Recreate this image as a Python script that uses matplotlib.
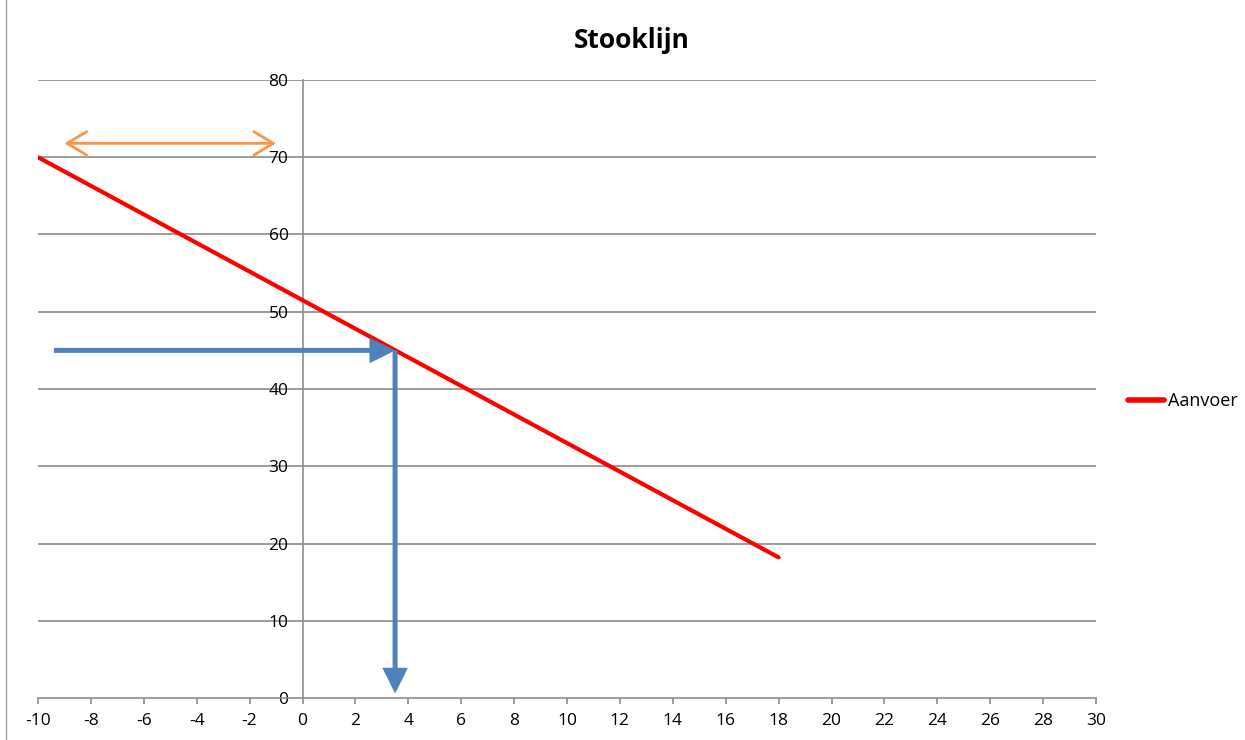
import matplotlib
matplotlib.use("Agg")
import matplotlib.pyplot as plt
import matplotlib.patheffects as pe
from matplotlib.lines import Line2D

# Data
temp_out = [-10, 18]
aanvoer = [70, 18.2]
x_ticks = list(range(-10, 31, 2))
y_ticks = list(range(0, 81, 10))
read_start_x = -9.4
read_x = 3.5
read_y = 45
read_bottom_y = 0.6
range_x = [-9.0, -1.0]
range_y = 71.8

plt.rcParams['font.family'] = ['Open Sans', 'DejaVu Sans']

fig = plt.figure(figsize=(12.45, 7.40), dpi=100)
ax = fig.add_axes([38/1245, 1-698/740, (1096-38)/1245, (698-80)/740])

grid_c = '#8c8c8c'
ax.set_xlim(-10, 30)
ax.set_ylim(0, 80)
for y in y_ticks[1:]:
    ax.axhline(y, color=grid_c, lw=1.2, zorder=1)

for s in ['top', 'right']:
    ax.spines[s].set_visible(False)
ax.spines['left'].set_position(('data', 0))
ax.spines['left'].set_color(grid_c)
ax.spines['left'].set_linewidth(1.2)
ax.spines['bottom'].set_color(grid_c)
ax.spines['bottom'].set_linewidth(1.2)

ax.set_xticks(x_ticks)
ax.set_xticklabels([str(v) for v in x_ticks], fontsize=12.5)
ax.set_yticks(y_ticks)
ax.set_yticklabels([str(v) for v in y_ticks], fontsize=12.5)
ax.tick_params(axis='x', direction='out', length=4, width=1.2, color=grid_c, pad=7)
ax.tick_params(axis='y', length=0, pad=10)

ax.plot(temp_out, aanvoer, color='#ff0000', lw=3, solid_capstyle='round', zorder=3, label='Aanvoer')

blue = '#4f81bd'
shadow = [pe.SimplePatchShadow(offset=(1.5, -1.5), alpha=0.25), pe.Normal()]
for start, end in [((read_start_x, read_y), (read_x, read_y)),
                   ((read_x, read_y), (read_x, read_bottom_y))]:
    ax.annotate('', xy=end, xytext=start,
                arrowprops=dict(arrowstyle='-|>,head_length=0.9,head_width=0.45', color=blue, lw=3.6,
                                mutation_scale=14, shrinkA=0, shrinkB=0, joinstyle='miter',
                                capstyle='butt', path_effects=shadow), zorder=4)

ax.annotate('', xy=(range_x[1], range_y), xytext=(range_x[0], range_y),
            arrowprops=dict(arrowstyle='<->,head_length=1.0,head_width=0.6', color='#f79646', lw=2,
                            mutation_scale=14, shrinkA=0, shrinkB=0), zorder=4)

fig.text(632/1245, 1-40/740, 'Stooklijn', ha='center', va='center', fontsize=19, fontweight='bold')

handle = Line2D([0], [0], color='#ff0000', lw=4, solid_capstyle='round')
fig.legend([handle], ['Aanvoer'], loc='center left', bbox_to_anchor=(1128/1245, 1-401/740),
           frameon=False, fontsize=13, handlelength=2.0, handletextpad=0.2, borderaxespad=0,
           borderpad=0)

fig.add_artist(Line2D([6/1245, 6/1245], [0, 1], transform=fig.transFigure, color='#a0a0a0', lw=1))

fig.savefig('out.png', dpi=100)
